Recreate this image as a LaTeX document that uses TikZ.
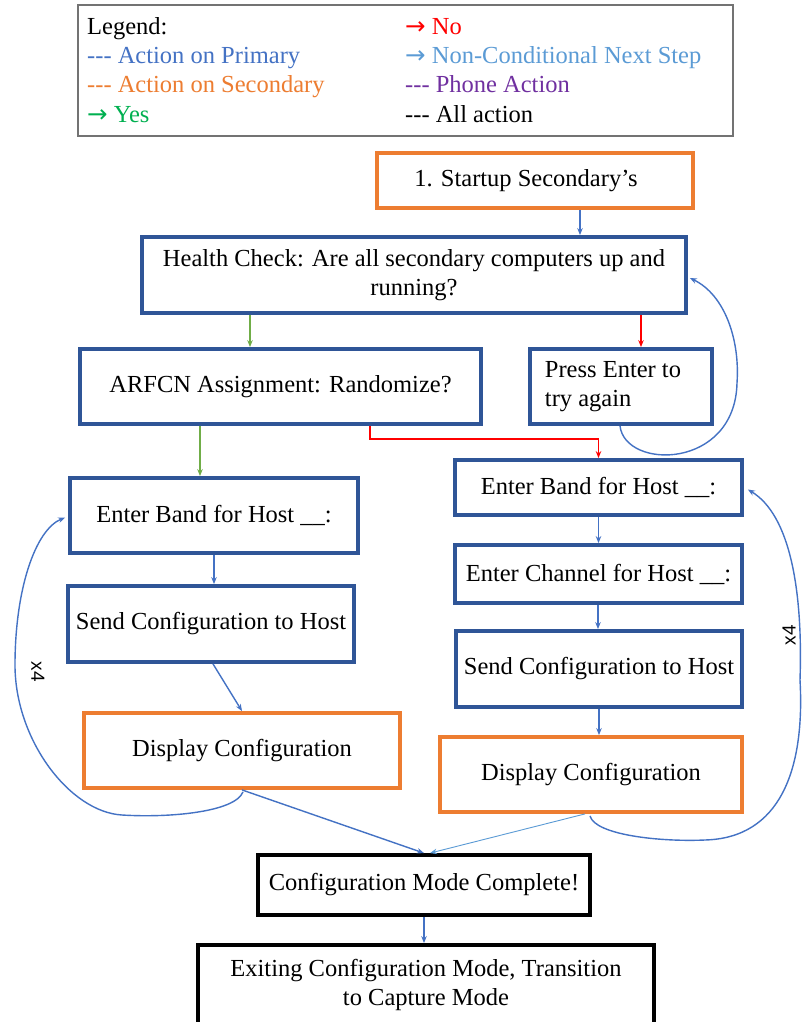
\documentclass[tikz,border=0pt]{standalone}
\usepackage{fontspec}
\setmainfont{Liberation Serif}
\newfontfamily\arrowfont{DejaVu Sans}
\newfontfamily\sansf{Liberation Sans}
\usetikzlibrary{arrows.meta}
\definecolor{bbox}{HTML}{2F5597}
\definecolor{obox}{HTML}{ED7D31}
\definecolor{barrow}{HTML}{4472C4}
\definecolor{lblue}{HTML}{5B9BD5}
\definecolor{gr}{HTML}{70AD47}
\definecolor{ygreen}{HTML}{00B050}
\definecolor{purp}{HTML}{7030A0}
\definecolor{rd}{HTML}{FF0000}
\newcommand{\fs}{\fontsize{24.5}{29}\selectfont}
\newcommand{\rarr}{{\arrowfont\char"2192}}
\newcommand{\tridash}{-{}-{}-}
\begin{document}
\begin{tikzpicture}[x=1pt,y=-1pt,
  basebox/.style={draw, line width=3.8pt, inner sep=0pt, align=center, font=\fs, fill=white},
  bluebox/.style={basebox, draw=bbox},
  orangebox/.style={basebox, draw=obox},
  blackbox/.style={basebox, draw=black},
  arr/.style={-{Stealth[length=7pt,width=5.5pt]}, line width=1.4pt, draw=barrow},
  legtext/.style={anchor=base west, inner sep=0pt, font=\fs},
  loopnote/.style={font=\sansf\fontsize{19}{21}\selectfont, inner sep=0pt}]
\useasboundingbox (0,0) rectangle (801,1022);
\fill[white] (0,0) rectangle (801,1022);

% legend
\node[draw=black!55, line width=1.5pt, minimum width=655pt, minimum height=131pt, inner sep=0pt] (legend) at (405.5,70.5) {};
\node[legtext, text=black]  (l1) at (87,35)  {Legend:};
\node[legtext, text=barrow] (l2) at (87,64)  {\tridash\ Action on Primary};
\node[legtext, text=obox]   (l3) at (87,93)  {\tridash\ Action on Secondary};
\node[legtext, text=ygreen] (l4) at (87,123) {\rarr\ Yes};
\node[legtext, text=rd]     (l5) at (405,35) {\rarr\ No};
\node[legtext, text=lblue]  (l6) at (405,64) {\rarr\ Non-Conditional Next Step};
\node[legtext, text=purp]   (l7) at (405,93) {\tridash\ Phone Action};
\node[legtext, text=black]  (l8) at (405,123) {\tridash\ All action};

% boxes
\node[orangebox, minimum width=316pt, minimum height=55pt] (start) at (535,180.5) {\hspace*{-18pt}1. Startup Secondary's};
\node[bluebox, minimum width=544pt, minimum height=76pt] (health) at (414,275) {Health Check: Are all secondary computers up and\\running?};
\node[bluebox, minimum width=401pt, minimum height=75pt] (arfcn) at (280.5,386.5) {ARFCN Assignment: Randomize?};
\node[bluebox, minimum width=182pt, minimum height=75pt, align=left] (press) at (621,386.5) {Press Enter to\hspace*{16pt}\\try again};
\node[bluebox, minimum width=288pt, minimum height=75pt] (bandL) at (214,515.5) {Enter Band for Host \_\_:};
\node[bluebox, minimum width=286pt, minimum height=76pt] (sendL) at (211,624) {Send Configuration to Host};
\node[orangebox, minimum width=316pt, minimum height=75pt] (dispL) at (242,750.5) {Display Configuration};
\node[bluebox, minimum width=287pt, minimum height=55pt] (bandR) at (598.5,487.5) {Enter Band for Host \_\_:};
\node[bluebox, minimum width=287pt, minimum height=58pt] (chanR) at (598.5,574) {Enter Channel for Host \_\_:};
\node[bluebox, minimum width=286pt, minimum height=76pt] (sendR) at (599,669) {Send Configuration to Host};
\node[orangebox, minimum width=302pt, minimum height=75pt] (dispR) at (591,774.5) {Display Configuration};
\node[blackbox, minimum width=332pt, minimum height=60pt] (complete) at (424,885) {Configuration Mode Complete!};
\node[blackbox, minimum width=456pt, minimum height=80pt] (exit) at (426,985) {Exiting Configuration Mode, Transition\\to Capture Mode};

% connectors
\draw[arr] ([xshift=45pt]start.south) -- ([xshift=45pt]start.south |- health.north);
\draw[arr, draw=gr] ([xshift=-164pt]health.south) -- ([xshift=-164pt]health.south |- arfcn.north);
\draw[arr, draw=rd] ([xshift=227pt]health.south) -- ([xshift=227pt]health.south |- press.north);
\draw[arr] ([xshift=-1pt]press.south) .. controls (625,470) and (735,470) .. (737,383)
  .. controls (740,340) and (725,295) .. ([shift={(2,3)}]health.east);
\draw[arr, draw=gr] ([xshift=-80.5pt]arfcn.south) -- ([xshift=-80.5pt]arfcn.south |- bandL.north);
\draw[arr, draw=rd] ([xshift=89.5pt]arfcn.south) -- ++(0,13) -| (bandR.north);
\draw[arr] (bandL.south) -- (bandL.south |- sendL.north);
\draw[arr] ([xshift=2pt]sendL.south) -- (dispL.north);
\draw[arr] (dispL.south) -- (complete.north);
\draw[arr] ([shift={(1,2)}]dispL.south) .. controls (235,812) and (170,818) .. (122,815)
  .. controls (70,812) and (15,740) .. (15,665)
  .. controls (15,590) and (35,530) .. ([shift={(-3,2)}]bandL.west);
\node[loopnote, rotate=-90] (x4L) at (38,672) {x4};
\draw[arr] (bandR.south) -- (chanR.north);
\draw[arr] ([xshift=-0.5pt]chanR.south) -- ([xshift=-0.5pt]chanR.south |- sendR.north);
\draw[arr] (sendR.south) -- (sendR.south |- dispR.north);
\draw[arr, draw=lblue, line width=0.9pt] ([xshift=-6pt]dispR.south) -- ([xshift=6pt]complete.north);
\draw[arr] ([shift={(-1,2)}]dispR.south) .. controls (595,835) and (660,842) .. (705,840)
  .. controls (780,838) and (805,770) .. (800,680)
  .. controls (803,590) and (790,515) .. ([shift={(4,2)}]bandR.east);
\node[loopnote, rotate=90] (x4R) at (789,635) {x4};
\draw[arr] (complete.south) -- (complete.south |- exit.north);
\end{tikzpicture}
\end{document}
